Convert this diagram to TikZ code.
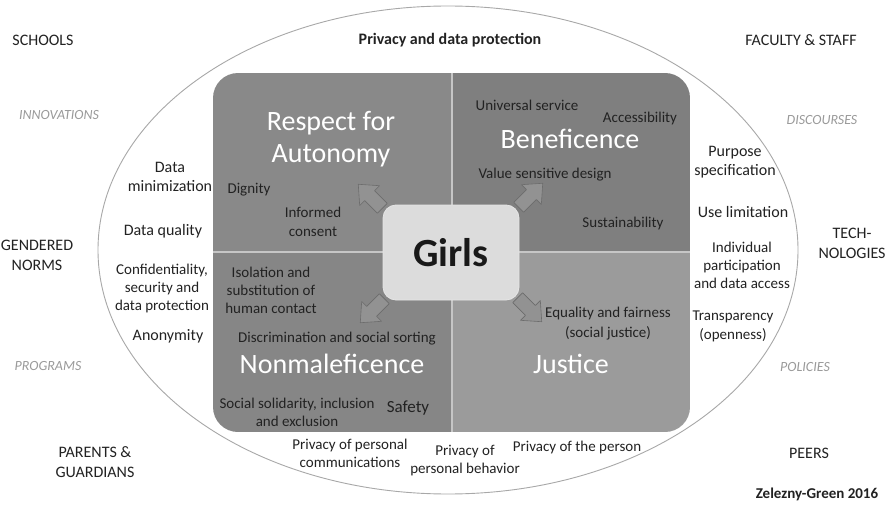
\documentclass[tikz,border=0pt]{standalone}
\usepackage{fontspec}
\setmainfont{Carlito}
\definecolor{qtl}{HTML}{898989}
\definecolor{qtr}{HTML}{7F7F7F}
\definecolor{qbl}{HTML}{868686}
\definecolor{qbr}{HTML}{9B9B9B}
\definecolor{divl}{HTML}{C6C6C6}
\definecolor{ringc}{HTML}{A8A8A8}
\definecolor{girlsc}{HTML}{DCDCDC}
\definecolor{darkt}{HTML}{222222}
\definecolor{grayit}{HTML}{9A9A9A}
\definecolor{arrf}{HTML}{929292}
\definecolor{arrd}{HTML}{6C6C6C}
\tikzset{
  lbl/.style={font=\fontsize{15}{19}\selectfont, align=center, inner sep=0pt, text=darkt},
  outer/.style={font=\fontsize{16}{19}\selectfont, align=center, inner sep=0pt, text=darkt},
  grayital/.style={font=\fontsize{14}{17}\selectfont\itshape, inner sep=0pt, text=grayit},
  big/.style={font=\fontsize{28}{32}\selectfont, align=center, inner sep=0pt, text=white},
  boldlbl/.style={font=\fontsize{16}{19}\selectfont\bfseries, inner sep=0pt, text=darkt},
  blockarrow/.style={fill=arrf, draw=arrd, line width=0.6pt, line join=round},
}
\newcommand{\barrow}[3]{%
  \path[blockarrow, shift={(#1,#2)}, rotate=#3]
    (-16pt,-7pt) -- (2pt,-7pt) -- (2pt,-14pt) -- (18pt,0pt) -- (2pt,14pt) -- (2pt,7pt) -- (-16pt,7pt) -- cycle;}
\begin{document}
\begin{tikzpicture}[x=1pt,y=-1pt]
\useasboundingbox[fill=white] (0,0) rectangle (893,505);
% outer ellipse
\draw[ringc, line width=0.9pt] (448,250) ellipse [x radius=350, y radius=244];
% quadrants
\begin{scope}
  \clip[rounded corners=25pt] (213,73) rectangle (690,432);
  \fill[qtl] (213,73) rectangle (452,252);
  \fill[qtr] (452,73) rectangle (690,252);
  \fill[qbl] (213,252) rectangle (452,432);
  \fill[qbr] (452,252) rectangle (690,432);
  \draw[divl, line width=1.5pt] (452,73) -- (452,432);
  \draw[divl, line width=1.5pt] (213,252) -- (690,252);
\end{scope}
% arrows
\barrow{371}{197}{135}
\barrow{530}{196}{45}
\barrow{373}{310}{225}
\barrow{529}{309}{-45}
% center box
\node[draw=white!90!black, fill=girlsc, rounded corners=13pt, minimum width=136pt, minimum height=95pt, line width=0.8pt,
      font=\fontsize{40}{44}\selectfont\bfseries, text=black!90] (girls) at (451,252.5) {Girls};
% quadrant texts
\node[big] (resp) at (331,139) {Respect for\\Autonomy};
\node[lbl] (dign) at (249,190) {Dignity};
\node[lbl] (inf) at (313,222) {Informed\\consent};
\node[lbl] (univ) at (527,105) {Universal service};
\node[lbl] (acc) at (640,119) {Accessibility};
\node[big] (bene) at (570,139) {Beneficence};
\node[lbl] (vsd) at (545,175) {Value sensitive design};
\node[lbl] (sust) at (623,223) {Sustainability};
\node[lbl, font=\fontsize{15}{18}\selectfont] (iso) at (271,290) {Isolation and\\substitution of\\human contact};
\node[lbl] (disc) at (337,339) {Discrimination and social sorting};
\node[big] (nonm) at (332,364) {Nonmaleficence};
\node[lbl, font=\fontsize{15}{18}\selectfont] (soc) at (297,412) {Social solidarity, inclusion\\and exclusion};
\node[lbl, font=\fontsize{17}{20}\selectfont] (safe) at (408,408) {Safety};
\node[lbl, font=\fontsize{15}{20}\selectfont] (eq) at (608,324) {Equality and fairness\\(social justice)};
\node[big] (just) at (571,364) {Justice};
% ring texts
\node[boldlbl] (pdp) at (450,40) {Privacy and data protection};
\node[outer] (dmin) at (170,177) {Data\\minimization};
\node[outer] (dq) at (163,231) {Data quality};
\node[lbl, font=\fontsize{15}{18}\selectfont] (conf) at (162,288) {Confidentiality,\\security and\\data protection};
\node[outer] (anon) at (168,336) {Anonymity};
\node[outer] (purp) at (735,162) {Purpose\\specification};
\node[outer] (use) at (743,212) {Use limitation};
\node[lbl, font=\fontsize{15}{18}\selectfont] (indiv) at (742,265) {Individual\\participation\\and data access};
\node[lbl] (transp) at (733,326) {Transparency\\(openness)};
\node[lbl, font=\fontsize{15}{18}\selectfont] (ppc) at (350,453) {Privacy of personal\\communications};
\node[lbl, font=\fontsize{15}{18}\selectfont] (ppb) at (465,461) {Privacy of\\personal behavior};
\node[lbl] (ptp) at (577,447) {Privacy of the person};
% outside texts
\node[outer] (schools) at (43,40) {SCHOOLS};
\node[outer] (fac) at (801,40) {FACULTY \& STAFF};
\node[grayital] (innov) at (59,115) {INNOVATIONS};
\node[grayital] (discourses) at (822,120) {DISCOURSES};
\node[outer, font=\fontsize{16}{20}\selectfont] (gend) at (37,255) {GENDERED\\NORMS};
\node[outer, font=\fontsize{16}{20}\selectfont] (tech) at (852,243) {TECH-\\NOLOGIES};
\node[grayital] (prog) at (48,366) {PROGRAMS};
\node[grayital] (pol) at (805,367) {POLICIES};
\node[outer, font=\fontsize{16}{20}\selectfont] (par) at (95,462) {PARENTS \&\\GUARDIANS};
\node[outer] (peers) at (809,453) {PEERS};
\node[boldlbl, font=\fontsize{15}{18}\selectfont\bfseries] (zg) at (817,494) {Zelezny-Green 2016};
\end{tikzpicture}
\end{document}
